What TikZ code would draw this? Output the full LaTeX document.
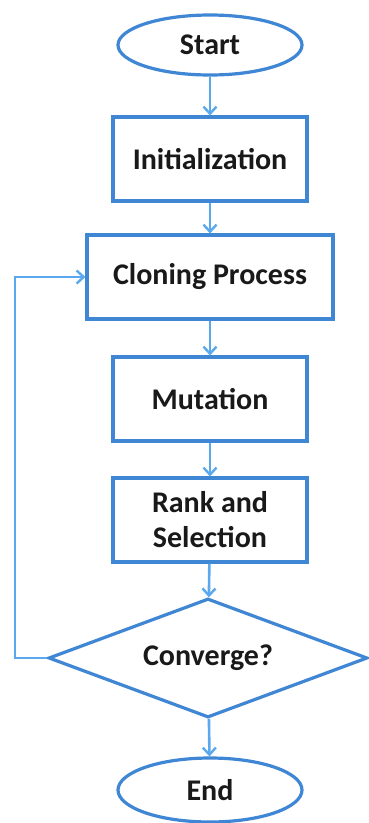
\documentclass[tikz,border=0pt]{standalone}
\usepackage{fontspec}
\setmainfont{Carlito}
\usetikzlibrary{shapes.geometric,arrows.meta}
\definecolor{boxblue}{HTML}{3F86D4}
\definecolor{linkblue}{HTML}{5AA8EE}
\tikzset{
  x=1pt, y=-1pt,
  shapeline/.style={draw=boxblue, line width=3.2pt, fill=white},
  stepbox/.style={shapeline, rectangle, minimum width=194pt, minimum height=84pt, inner sep=0pt},
  term/.style={shapeline, ellipse, minimum width=184pt, minimum height=60pt, inner sep=0pt},
  decide/.style={shapeline, diamond, minimum width=319pt, minimum height=119pt, inner sep=0pt, aspect=2.7},
  label/.style={font=\bfseries\fontsize{30}{35}\selectfont, align=center, text=black!90},
  link/.style={draw=linkblue, line width=2.6pt, -{Straight Barb[length=7pt,width=13pt,line width=2.4pt]}},
}
\begin{document}
\begin{tikzpicture}
\useasboundingbox[fill=white] (0,0) rectangle (368,823);
\node[term, label] (start) at (210,45) {Start};
\node[stepbox, label] (init) at (210,159) {Initialization};
\node[stepbox, label, minimum width=246pt] (clone) at (210,277) {Cloning Process};
\node[stepbox, label] (mut) at (210,399) {Mutation};
\node[stepbox, label] (rank) at (210,520) {Rank and\\Selection};
\node[decide, label] (conv) at (208,658) {Converge?};
\node[term, label, minimum height=64pt] (stop) at (210,790) {End};
\coordinate (back) at (15,658);
\draw[link] (start) -- (init);
\draw[link] (init) -- (clone);
\draw[link] (clone) -- (mut);
\draw[link] (mut) -- (rank);
\draw[link] (rank) -- (conv);
\draw[link] (conv) -- (stop);
\draw[link] (conv.west) -- (back) |- (clone.west);
\end{tikzpicture}
\end{document}
